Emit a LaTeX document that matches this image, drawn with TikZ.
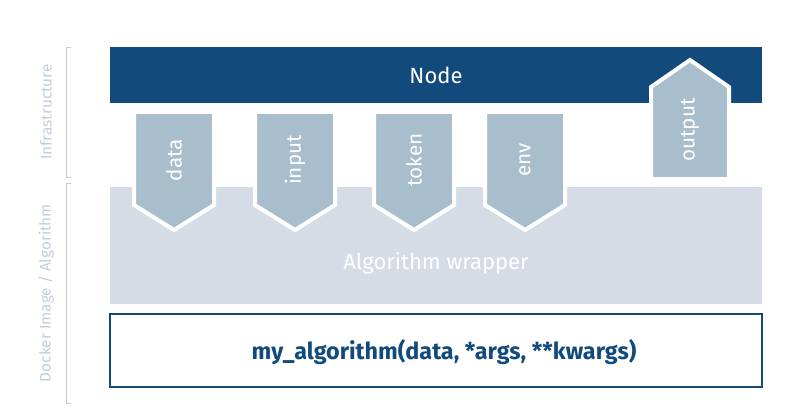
\documentclass[tikz,border=0pt]{standalone}
\usepackage{fontspec}
\setmainfont{Fira Sans}
\usetikzlibrary{positioning}
\definecolor{nodeblue}{HTML}{124A7C}
\definecolor{arrowgrey}{HTML}{A9BECC}
\definecolor{wrapgrey}{HTML}{D5DCE5}
\definecolor{labelgrey}{HTML}{C3CDD6}
\tikzset{%
  bar/.style={fill=nodeblue, draw=none},
  wrap/.style={fill=wrapgrey, draw=none},
  pipe/.style={fill=arrowgrey, draw=white, line width=3pt, line join=miter},
  pipetext/.style={rotate=90, text=white, font=\fontsize{15.5}{18}\selectfont},
  side/.style={draw=labelgrey, line width=0.6pt},
  sidetext/.style={rotate=90, text=labelgrey, font=\fontsize{11.5}{14}\selectfont}
}
\begin{document}
\begin{tikzpicture}[x=0.75pt, y=-0.75pt]
  \useasboundingbox (0,0) rectangle (804,410);
  % layers
  \fill[bar] (110,47) rectangle (762,103);
  \node[text=white, font=\fontsize{16.5}{20}\selectfont] (node) at (436,75) {Node};
  \fill[wrap] (110,187) rectangle (762,304);
  \node[text=white, font=\fontsize{16.5}{20}\selectfont] (wrapper) at (436,263) {Algorithm wrapper};
  \draw[draw=nodeblue, line width=1.2pt] (110,314) rectangle (762,387);
  \node[text=nodeblue, font=\fontsize{17.5}{21}\selectfont\bfseries] (algo) at (444,352) {my\_algorithm(data, *args, **kwargs)};
  % inputs
  \foreach \cx/\lbl in {174/data, 295/input, 414/token, 525/env}{
    \draw[pipe] (\cx-40,112) -- (\cx+40,112) -- (\cx+40,205) -- (\cx,230) -- (\cx-40,205) -- cycle;
    \node[pipetext] (in-\lbl) at (\cx,160) {\lbl};
  }
  % output
  \draw[pipe] (651,179) -- (729,179) -- (729,87) -- (690,60) -- (651,87) -- cycle;
  \node[pipetext] (out) at (690,130) {output};
  % side labels
  \draw[side] (71,47) -- (66,47) -- (66,177) -- (71,177);
  \node[sidetext] (infra) at (46,112) {Infrastructure};
  \draw[side] (71,183) -- (66,183) -- (66,403) -- (71,403);
  \node[sidetext] (docker) at (46,293) {Docker Image / Algorithm};
\end{tikzpicture}
\end{document}
